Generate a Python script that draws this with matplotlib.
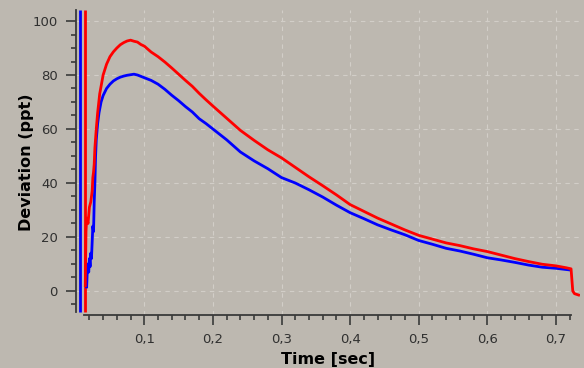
"""
Courbe de deviation (ppt) en fonction du temps - deux canaux (rouge / bleu)
avec curseurs verticaux au declenchement. Sauvegarde dans out.png.
"""

import matplotlib
matplotlib.use("Agg")
import matplotlib.pyplot as plt
from matplotlib.ticker import MultipleLocator, FixedLocator, FixedFormatter

# --- 1. Donnees ---
red_t = [0.014, 0.015, 0.016, 0.018, 0.020, 0.022, 0.024, 0.025, 0.026, 0.027,
         0.028, 0.030, 0.032, 0.035, 0.040, 0.045, 0.050, 0.055, 0.060, 0.065,
         0.070, 0.075, 0.080, 0.085, 0.090, 0.095, 0.100, 0.110, 0.120, 0.130,
         0.140, 0.150, 0.160, 0.170, 0.180, 0.190, 0.200, 0.220, 0.240, 0.260,
         0.280, 0.300, 0.320, 0.340, 0.360, 0.380, 0.400, 0.420, 0.440, 0.460,
         0.480, 0.500, 0.520, 0.540, 0.560, 0.580, 0.600, 0.620, 0.640, 0.660,
         0.680, 0.700, 0.715, 0.722, 0.7245, 0.727, 0.733]
red_v = [2, 22, 27, 25, 31, 33, 37, 42, 44, 47,
         53, 60, 66, 73, 80, 84, 86.8, 88.6, 90, 91.2,
         92, 92.6, 92.9, 92.5, 92.2, 91.3, 90.7, 88.5, 86.8, 84.8,
         82.6, 80.3, 78.0, 75.8, 73.2, 70.8, 68.5, 64.0, 59.5, 55.8,
         52.3, 49.3, 45.8, 42.3, 39.0, 35.6, 32.0, 29.5, 27.0, 24.8,
         22.6, 20.6, 19.2, 17.8, 16.8, 15.6, 14.6, 13.3, 12.0, 10.9,
         9.9, 9.3, 8.6, 8.2, 0, -1, -1.5]

blue_t = [0.016, 0.017, 0.018, 0.019, 0.020, 0.021, 0.022, 0.023, 0.024, 0.025,
          0.026, 0.027, 0.028, 0.029, 0.030, 0.032, 0.034, 0.037, 0.040, 0.045,
          0.050, 0.055, 0.060, 0.065, 0.070, 0.075, 0.080, 0.085, 0.090, 0.095,
          0.100, 0.110, 0.120, 0.130, 0.140, 0.150, 0.160, 0.170, 0.180, 0.190,
          0.200, 0.220, 0.240, 0.260, 0.280, 0.300, 0.320, 0.340, 0.360, 0.380,
          0.400, 0.420, 0.440, 0.460, 0.480, 0.500, 0.520, 0.540, 0.560, 0.580,
          0.600, 0.620, 0.640, 0.660, 0.680, 0.700, 0.720]
blue_v = [1.5, 8, 10, 7, 12, 9, 14, 12, 18, 24,
          22, 33, 40, 50, 56, 62, 66, 70, 72.4, 75,
          76.6, 77.8, 78.6, 79.2, 79.6, 79.9, 80.1, 80.3, 80, 79.5,
          79.0, 78, 76.6, 74.7, 72.5, 70.5, 68.3, 66.3, 63.8, 62.0,
          60.0, 56.0, 51.5, 48.2, 45.3, 42.0, 40.0, 37.5, 34.8, 31.8,
          29.0, 26.8, 24.5, 22.6, 20.8, 18.7, 17.3, 15.8, 14.8, 13.6,
          12.3, 11.5, 10.6, 9.6, 8.8, 8.4, 7.8]

cursor_t = [0.006, 0.0135]          # curseurs bleu / rouge
cursor_colors = ["#0000ff", "#ff0000"]

x_major = [0.1, 0.2, 0.3, 0.4, 0.5, 0.6, 0.7]
x_labels = ["0,1", "0,2", "0,3", "0,4", "0,5", "0,6", "0,7"]
y_major = [0, 20, 40, 60, 80, 100]

BG = "#bdb8b0"
AXC = "#3a3a3a"

# --- 2. Figure ---
fig = plt.figure(figsize=(5.84, 3.68), dpi=100, facecolor=BG)
ax = fig.add_axes([0.1296, 0.144, 0.8635, 0.829], facecolor=BG)

ax.set_xlim(0, 0.735)
ax.set_ylim(-8.9, 104.1)

for xc, c in zip(cursor_t, cursor_colors):
    ax.vlines(xc, -7.8, 104.1, color=c, lw=2.0, zorder=3)

ax.plot(blue_t, blue_v, "-", color="#0000ff", lw=2.0, zorder=4)
ax.plot(red_t, red_v, "-", color="#ff0000", lw=2.0, zorder=5)

# --- 3. Axes / graduations ---
for s in ("top", "right"):
    ax.spines[s].set_visible(False)
for s in ("left", "bottom"):
    ax.spines[s].set_color(AXC)
    ax.spines[s].set_linewidth(1.3)
ax.spines["left"].set_bounds(-7.8, 104.1)
ax.spines["bottom"].set_bounds(0.012, 0.722)

ax.xaxis.set_major_locator(FixedLocator(x_major))
ax.xaxis.set_major_formatter(FixedFormatter(x_labels))
ax.xaxis.set_minor_locator(FixedLocator([0.02 * i for i in range(1, 37) if i % 5]))
ax.yaxis.set_major_locator(FixedLocator(y_major))
ax.yaxis.set_minor_locator(MultipleLocator(5))

ax.tick_params(which="major", length=7, width=1.2, color=AXC,
               labelsize=9.5, labelcolor="#303030", pad=6)
ax.tick_params(which="minor", length=3.5, width=1.2, color=AXC)

ax.grid(True, which="major", color="#d2cec8", ls=(0, (4, 4)), lw=0.8, zorder=0)

ax.set_xlabel("Time [sec]", fontsize=11.5, fontweight="bold", color="black", labelpad=4)
ax.set_ylabel("Deviation (ppt)", fontsize=11.5, fontweight="bold", color="black", labelpad=-1)

fig.savefig("out.png", dpi=100, facecolor=BG)
